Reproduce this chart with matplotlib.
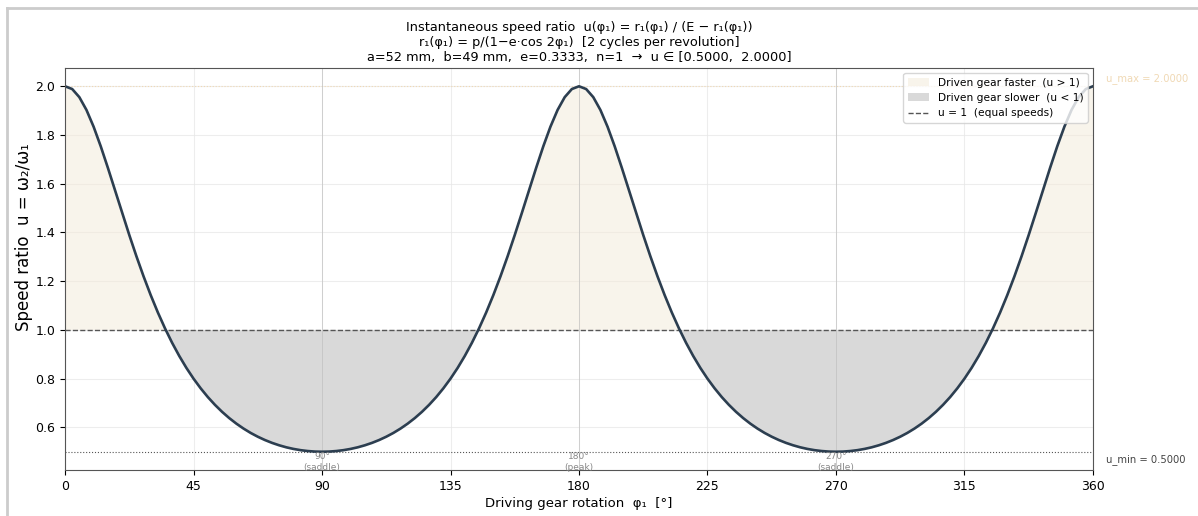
import numpy as np
import matplotlib.pyplot as plt
from matplotlib.lines import Line2D
from matplotlib.patches import Patch

# driving gear angle (deg), sampled every 2.5 deg
phi = np.arange(0, 360.1, 2.5)

# speed ratio
u = np.array([
    2.0000, 1.9887, 1.9554, 1.9028, 1.8341, 1.7536, 1.6653, 1.5732, 1.4805, 1.3895, 1.3022, 1.2198,
    1.1429, 1.0718, 1.0066, 0.9471, 0.8931, 0.8441, 0.8000, 0.7603, 0.7245, 0.6925, 0.6638, 0.6382,
    0.6154, 0.5952, 0.5773, 0.5617, 0.5481, 0.5364, 0.5265, 0.5182, 0.5116, 0.5065, 0.5029, 0.5007,
    0.5000, 0.5007, 0.5029, 0.5065, 0.5116, 0.5182, 0.5265, 0.5364, 0.5481, 0.5617, 0.5773, 0.5952,
    0.6154, 0.6382, 0.6638, 0.6925, 0.7245, 0.7603, 0.8000, 0.8441, 0.8931, 0.9471, 1.0066, 1.0718,
    1.1429, 1.2198, 1.3022, 1.3895, 1.4805, 1.5732, 1.6653, 1.7536, 1.8341, 1.9028, 1.9554, 1.9887,
    2.0000, 1.9887, 1.9554, 1.9028, 1.8341, 1.7536, 1.6653, 1.5732, 1.4805, 1.3895, 1.3022, 1.2198,
    1.1429, 1.0718, 1.0066, 0.9471, 0.8931, 0.8441, 0.8000, 0.7603, 0.7245, 0.6925, 0.6638, 0.6382,
    0.6154, 0.5952, 0.5773, 0.5617, 0.5481, 0.5364, 0.5265, 0.5182, 0.5116, 0.5065, 0.5029, 0.5007,
    0.5000, 0.5007, 0.5029, 0.5065, 0.5116, 0.5182, 0.5265, 0.5364, 0.5481, 0.5617, 0.5773, 0.5952,
    0.6154, 0.6382, 0.6638, 0.6925, 0.7245, 0.7603, 0.8000, 0.8441, 0.8931, 0.9471, 1.0066, 1.0718,
    1.1429, 1.2198, 1.3022, 1.3895, 1.4805, 1.5732, 1.6653, 1.7536, 1.8341, 1.9028, 1.9554, 1.9887,
    2.0000,
])

u_max = 2.0
u_min = 0.5
marks = [90, 180, 270]
mark_labels = ['90°\n(saddle)', '180°\n(peak)', '270°\n(saddle)']
xticks = [0, 45, 90, 135, 180, 225, 270, 315, 360]

fig = plt.figure(figsize=(11.98, 5.16), dpi=100)
ax = fig.add_axes([0.0543, 0.0891, 0.858, 0.7791])

# notebook-style frame
fig.add_artist(Line2D([0.0058, 0.0058], [0, 0.985], transform=fig.transFigure, color='#cccccc', lw=2))
fig.add_artist(Line2D([0.0058, 1], [0.985, 0.985], transform=fig.transFigure, color='#cccccc', lw=2))

ax.fill_between(phi, u, 1, where=u >= 1, interpolate=True, color='#f3ead8', alpha=0.5, lw=0)
ax.fill_between(phi, u, 1, where=u <= 1, interpolate=True, color='#d9d9d9', lw=0)
ax.axhline(1.0, color='#555555', ls='--', lw=1)
ax.axhline(u_max, color='#f0d9b5', ls=':', lw=0.8)
ax.axhline(u_min, color='#555555', ls=':', lw=0.8)
for m, lab in zip(marks, mark_labels):
    ax.axvline(m, color='#bbbbbb', lw=0.7, alpha=0.6)
    ax.text(m, u_min - 0.003, lab, ha='center', va='top', fontsize=6.5, color='#888888')
ax.plot(phi, u, color='#2c3e50', lw=1.9)

ax.text(1.013, u_max + 0.01, 'u_max = 2.0000', transform=ax.get_yaxis_transform(),
        fontsize=7.2, color='#f0d9b5', va='bottom', ha='left')
ax.text(1.013, u_min - 0.01, 'u_min = 0.5000', transform=ax.get_yaxis_transform(),
        fontsize=7.2, color='#444444', va='top', ha='left')

ax.set_xlim(0, 360)
ax.set_ylim(0.425, 2.075)
ax.set_xticks(xticks)
ax.tick_params(labelsize=9)
ax.grid(True, color='#e6e6e6', lw=0.8, alpha=0.7)
ax.set_axisbelow(True)
for s in ax.spines.values():
    s.set_color('#555555')

ax.set_xlabel('Driving gear rotation  φ₁  [°]', fontsize=9.5, labelpad=3)
ax.set_ylabel('Speed ratio  u = ω₂/ω₁', fontsize=12)
ax.yaxis.set_label_coords(-0.031, 0.58)
ax.set_title('Instantaneous speed ratio  u(φ₁) = r₁(φ₁) / (E − r₁(φ₁))\n'
             'r₁(φ₁) = p/(1−e·cos 2φ₁)  [2 cycles per revolution]\n'
             'a=52 mm,  b=49 mm,  e=0.3333,  n=1  →  u ∈ [0.5000,  2.0000]', fontsize=9.3, pad=5)

handles = [Patch(facecolor='#f3ead8', alpha=0.5, label='Driven gear faster  (u > 1)'),
           Patch(facecolor='#d9d9d9', label='Driven gear slower  (u < 1)'),
           Line2D([], [], color='#555555', ls='--', lw=1, label='u = 1  (equal speeds)')]
ax.legend(handles=handles, loc='upper right', fontsize=7.7)

fig.savefig('out.png', dpi=100)
